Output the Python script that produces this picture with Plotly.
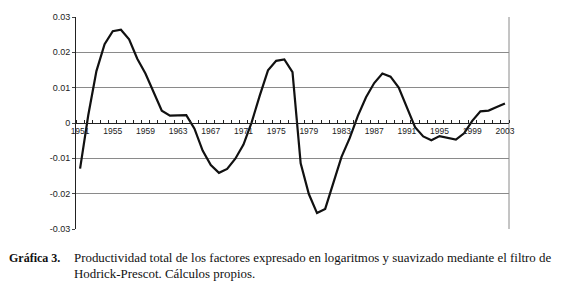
import plotly.graph_objects as go

years = list(range(1951, 2004))
ptf = [-0.0129, 0.0022, 0.0147, 0.0223, 0.0260, 0.0264, 0.0237, 0.0182, 0.0140, 0.0085,
       0.0035, 0.0021, 0.0022, 0.0022, -0.0016, -0.0078, -0.0119, -0.0141, -0.0130, -0.0101,
       -0.0061, 0.0002, 0.0078, 0.0149, 0.0176, 0.0180, 0.0144, -0.0114, -0.0201, -0.0255,
       -0.0243, -0.0172, -0.0096, -0.0043, 0.0020, 0.0073, 0.0113, 0.0140, 0.0131, 0.0100,
       0.0046, -0.0012, -0.0038, -0.0049, -0.0037, -0.0043, -0.0047, -0.0029, 0.0006, 0.0033,
       0.0035, 0.0045, 0.0055]
x_labels = list(range(1951, 2004, 4))
y_ticks = [-0.03, -0.02, -0.01, 0, 0.01, 0.02, 0.03]
y_labels = ["-0.03", "-0.02", "-0.01", "0", "0.01", "0.02", "0.03"]

caption_head = "<b>Gráfica 3.</b>"
caption_l1 = "Productividad total de los factores expresado en logaritmos y suavizado mediante el filtro de"
caption_l2 = "Hodrick-Prescot. Cálculos propios."

serif = "Liberation Serif, Times New Roman, serif"

# page body adds an 8px offset; figure sized to fit the 565x284 window
T, B = 4, 55
H = 276
L = 68
plot_h = H - T - B
plot_w = 557 - L - 56


def py(window_y):
    # window pixel -> paper fraction
    return 1 - (window_y - 8 - T) / plot_h


def px(window_x):
    return (window_x - 8 - L) / plot_w


fig = go.Figure()
fig.add_trace(go.Scatter(x=years, y=ptf, mode="lines",
                         line=dict(color="#111111", width=2.2), showlegend=False))

fig.update_layout(
    width=557, height=H,
    margin=dict(l=L, r=56, t=T, b=B),
    paper_bgcolor="white", plot_bgcolor="white",
    font=dict(family="Liberation Sans, Arial, sans-serif", color="#111111"),
    xaxis=dict(range=[1950.5, 2003.5], tickvals=x_labels, ticktext=[str(v) for v in x_labels],
               showgrid=False, zeroline=False, showline=True, linecolor="#222222", linewidth=1,
               anchor="free", position=0.5, ticks="", tickfont=dict(size=8.5, color="#222222"),
               minor=dict(tick0=1950.5, dtick=1, ticks="inside", ticklen=3, tickcolor="#222222",
                          showgrid=False)),
    yaxis=dict(range=[-0.03, 0.03], tickvals=y_ticks, ticktext=y_labels,
               showgrid=True, gridcolor="#8a8a8a", gridwidth=1, zeroline=False,
               showline=True, linecolor="#222222", linewidth=1,
               ticks="outside", ticklen=3, tickcolor="#444444", ticklabeloverflow="allow",
               tickfont=dict(size=9, color="#222222")),
    shapes=[dict(type="line", xref="paper", yref="paper", x0=1, x1=1, y0=0, y1=1,
                 line=dict(color="#8a8a8a", width=1), layer="below")],
    annotations=[
        dict(text=caption_head, xref="paper", yref="paper", x=px(7), y=py(259),
             xanchor="left", yanchor="middle", showarrow=False,
             font=dict(family=serif, size=12, color="#111111")),
        dict(text=caption_l1, xref="paper", yref="paper", x=px(72), y=py(259),
             xanchor="left", yanchor="middle", showarrow=False,
             font=dict(family=serif, size=12.9, color="#111111")),
        dict(text=caption_l2, xref="paper", yref="paper", x=px(72), y=py(275),
             xanchor="left", yanchor="middle", showarrow=False,
             font=dict(family=serif, size=12.9, color="#111111")),
    ],
)

fig.write_html("out.html")
